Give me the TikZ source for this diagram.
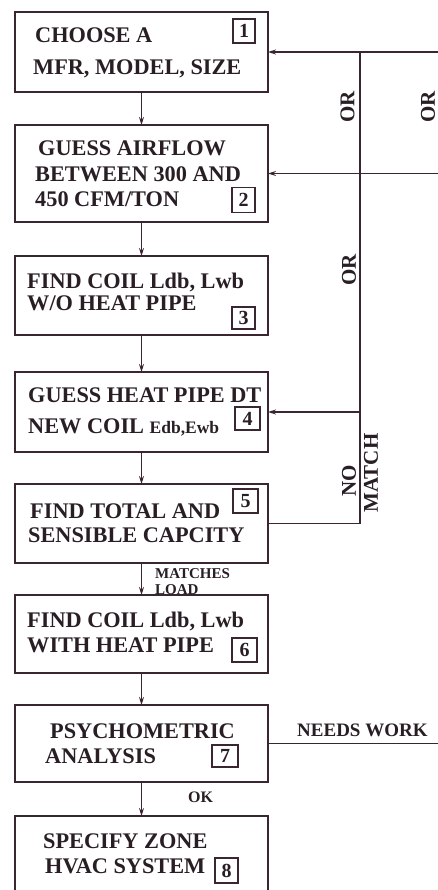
\documentclass[tikz,border=0pt]{standalone}
\usepackage{fontspec}
\setmainfont{Liberation Serif}
\usetikzlibrary{arrows.meta}
\definecolor{ink}{RGB}{40,30,36}
\definecolor{linec}{RGB}{58,38,48}
\begin{document}
\begin{tikzpicture}[x=1pt,y=-1pt,
  box/.style={draw=linec,line width=1.4pt,minimum width=253pt,inner sep=0pt,outer sep=0pt},
  numbox/.style={draw=linec,line width=1.2pt,inner sep=0pt,outer sep=0pt,text=ink,font=\fontsize{20}{20}\selectfont\bfseries},
  txt/.style={anchor=base west,inner sep=0pt,text=ink,font=\fontsize{22.3}{22.3}\selectfont\bfseries},
  smalltxt/.style={anchor=base west,inner sep=0pt,text=ink,font=\fontsize{15}{15}\selectfont\bfseries},
  vlab/.style={rotate=90,inner sep=0pt,text=ink,font=\fontsize{21}{21}\selectfont\bfseries},
  arr/.style={draw=linec,line width=1.2pt,-{Stealth[length=8pt,width=5pt]}},
  ln/.style={draw=linec,line width=1.2pt}]
\useasboundingbox (0,0) rectangle (438,890);
\fill[white] (0,0) rectangle (438,890);
% main boxes
\node[box,minimum height=80pt] (b1) at (141.5,52) {};
\node[box,minimum height=97pt] (b2) at (141.5,173.5) {};
\node[box,minimum height=79pt] (b3) at (141.5,295.5) {};
\node[box,minimum height=80pt] (b4) at (141.5,412) {};
\node[box,minimum height=79pt] (b5) at (141.5,523.5) {};
\node[box,minimum height=78pt] (b6) at (141.5,634) {};
\node[box,minimum height=77pt] (b7) at (141.5,743.5) {};
\node[box,minimum height=78pt] (b8) at (141.5,855) {};
% number boxes
\node[numbox,minimum width=22pt,minimum height=24pt] (n1) at (244,31) {1};
\node[numbox,minimum width=23pt,minimum height=25pt] (n2) at (243.5,200) {2};
\node[numbox,minimum width=23pt,minimum height=22pt] (n3) at (243.5,318) {3};
\node[numbox,minimum width=25pt,minimum height=23pt] (n4) at (247.5,418.5) {4};
\node[numbox,minimum width=25pt,minimum height=24pt] (n5) at (245.5,501) {5};
\node[numbox,minimum width=25pt,minimum height=24pt] (n6) at (244.5,650) {6};
\node[numbox,minimum width=26pt,minimum height=22pt] (n7) at (225,756) {7};
\node[numbox,minimum width=23pt,minimum height=25pt] (n8) at (226.5,870.5) {8};
% box texts
\node[txt] (t1a) at (35,43) {CHOOSE A};
\node[txt] (t1b) at (33,75) {MFR, MODEL, SIZE};
\node[txt] (t2a) at (38,156) {GUESS AIRFLOW};
\node[txt] (t2b) at (35,182) {BETWEEN 300 AND};
\node[txt] (t2c) at (35,207) {450 CFM/TON};
\node[txt] (t3a) at (27,288) {FIND COIL Ldb, Lwb};
\node[txt] (t3b) at (27,310) {W/O HEAT PIPE};
\node[txt] (t4a) at (28,402) {GUESS HEAT PIPE DT};
\node[txt] (t4b) at (28,433) {NEW COIL \fontsize{17.5}{17.5}\selectfont Edb,Ewb};
\node[txt] (t5a) at (30,518) {FIND TOTAL AND};
\node[txt] (t5b) at (28,542) {SENSIBLE CAPCITY};
\node[txt] (t6a) at (27,627) {FIND COIL Ldb, Lwb};
\node[txt] (t6b) at (27,652) {WITH HEAT PIPE};
\node[txt] (t7a) at (50,738) {PSYCHOMETRIC};
\node[txt] (t7b) at (45,763) {ANALYSIS};
\node[txt] (t8a) at (43,848) {SPECIFY ZONE};
\node[txt] (t8b) at (45,873) {HVAC SYSTEM};
% connector labels
\node[smalltxt] (lm1) at (155,578) {MATCHES};
\node[smalltxt] (lm2) at (155,594) {LOAD};
\node[smalltxt,font=\fontsize{16}{16}\selectfont\bfseries] (lok) at (188,802) {OK};
\node[smalltxt,font=\fontsize{19}{19}\selectfont\bfseries] (lnw) at (297,736) {NEEDS WORK};
\node[vlab] (or1) at (347.5,107) {OR};
\node[vlab] (or2) at (349,270) {OR};
\node[vlab] (or3) at (428,107) {OR};
\node[vlab] (lno) at (349,481) {NO};
\node[vlab] (lma) at (371,473) {MATCH};
% down arrows
\draw[arr] (b1.south) -- (b2.north);
\draw[arr] (b2.south) -- (b3.north);
\draw[arr] (b3.south) -- (b4.north);
\draw[arr] (b4.south) -- (b5.north);
\draw[arr] (b5.south) -- (b6.north);
\draw[arr] (b6.south) -- (b7.north);
\draw[arr] (b7.south) -- (b8.north);
% feedback lines
\coordinate (e1) at (446,52);
\coordinate (e2) at (446,173.5);
\coordinate (e7) at (446,743.5);
\coordinate (jt) at (360,52);
\coordinate (j4) at (360,412);
\coordinate (j5) at (360,523.5);
\draw[arr] (e1) -- (b1.east);
\draw[arr] (e2) -- (b2.east);
\draw[ln] (b5.east) -- (j5) -- (jt);
\draw[arr] (j4) -- (b4.east);
\draw[ln] (b7.east) -- (e7);
\end{tikzpicture}
\end{document}
